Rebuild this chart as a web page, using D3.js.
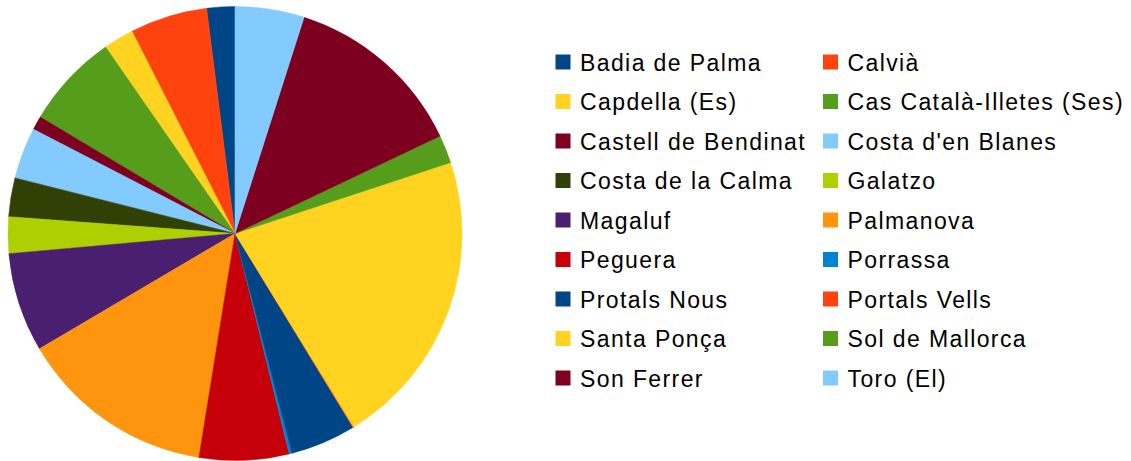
<!DOCTYPE html>
<html>
<head>
<meta charset="utf-8">
<script src="https://cdn.jsdelivr.net/npm/d3@7"></script>
<style>
  body { margin: 0; background: #fff; }
  text { font-family: "Liberation Sans", Arial, sans-serif; }
</style>
</head>
<body>
<div id="chart"></div>
<script>
var categories = ["Badia de Palma", "Calvià", "Capdella (Es)", "Cas Català-Illetes (Ses)",
    "Castell de Bendinat", "Costa d'en Blanes", "Costa de la Calma", "Galatzo",
    "Magaluf", "Palmanova", "Peguera", "Porrassa", "Protals Nous", "Portals Vells",
    "Santa Ponça", "Sol de Mallorca", "Son Ferrer", "Toro (El)"];

var values = [1000, 2750, 1080, 3380, 490, 1830, 1380, 1300, 3530, 6990,
    3190, 100, 2330, 30, 10650, 1000, 6510, 2460];

var colors = ["#004586", "#ff420e", "#ffd320", "#579d1c", "#7e0021", "#83caff",
    "#314004", "#aecf00", "#4b1f6f", "#ff950e", "#c5000b", "#0084d1"];

var width = 1131, height = 461;
var cx = 235, cy = 233.5, radius = 227;

var svg = d3.select('#chart')
    .append('svg')
    .attr('width', width)
    .attr('height', height);

var color = d3.scaleOrdinal()
    .domain(d3.range(categories.length))
    .range(categories.map(function (d, i) { return colors[i % colors.length]; }));

// counter-clockwise from 12 o'clock, like the original
var pie = d3.pie()
    .sort(null)
    .startAngle(0)
    .endAngle(-2 * Math.PI);

var arc = d3.arc()
    .innerRadius(0)
    .outerRadius(radius);

svg.append('g')
    .attr('transform', 'translate(' + cx + ',' + cy + ')')
    .selectAll('path')
    .data(pie(values))
    .enter()
    .append('path')
    .attr('d', arc)
    .attr('fill', function (d, i) { return color(i); })
    .attr('stroke', function (d, i) { return color(i); })
    .attr('stroke-width', 0.5);

// legend, two columns filled row by row
var legend = svg.append('g');
var item = legend.selectAll('g')
    .data(categories)
    .enter()
    .append('g')
    .attr('transform', function (d, i) {
        var col = i % 2, row = Math.floor(i / 2);
        return 'translate(' + (col === 0 ? 555.5 : 823) + ',' + (54.5 + row * 39.5) + ')';
    });

item.append('rect')
    .attr('width', 15)
    .attr('height', 15)
    .attr('fill', function (d, i) { return color(i); });

item.append('text')
    .attr('x', 24.5)
    .attr('y', 16.3)
    .attr('font-size', 23)
    .attr('letter-spacing', 1.4)
    .attr('fill', '#000')
    .text(function (d) { return d; });
</script>
</body>
</html>
